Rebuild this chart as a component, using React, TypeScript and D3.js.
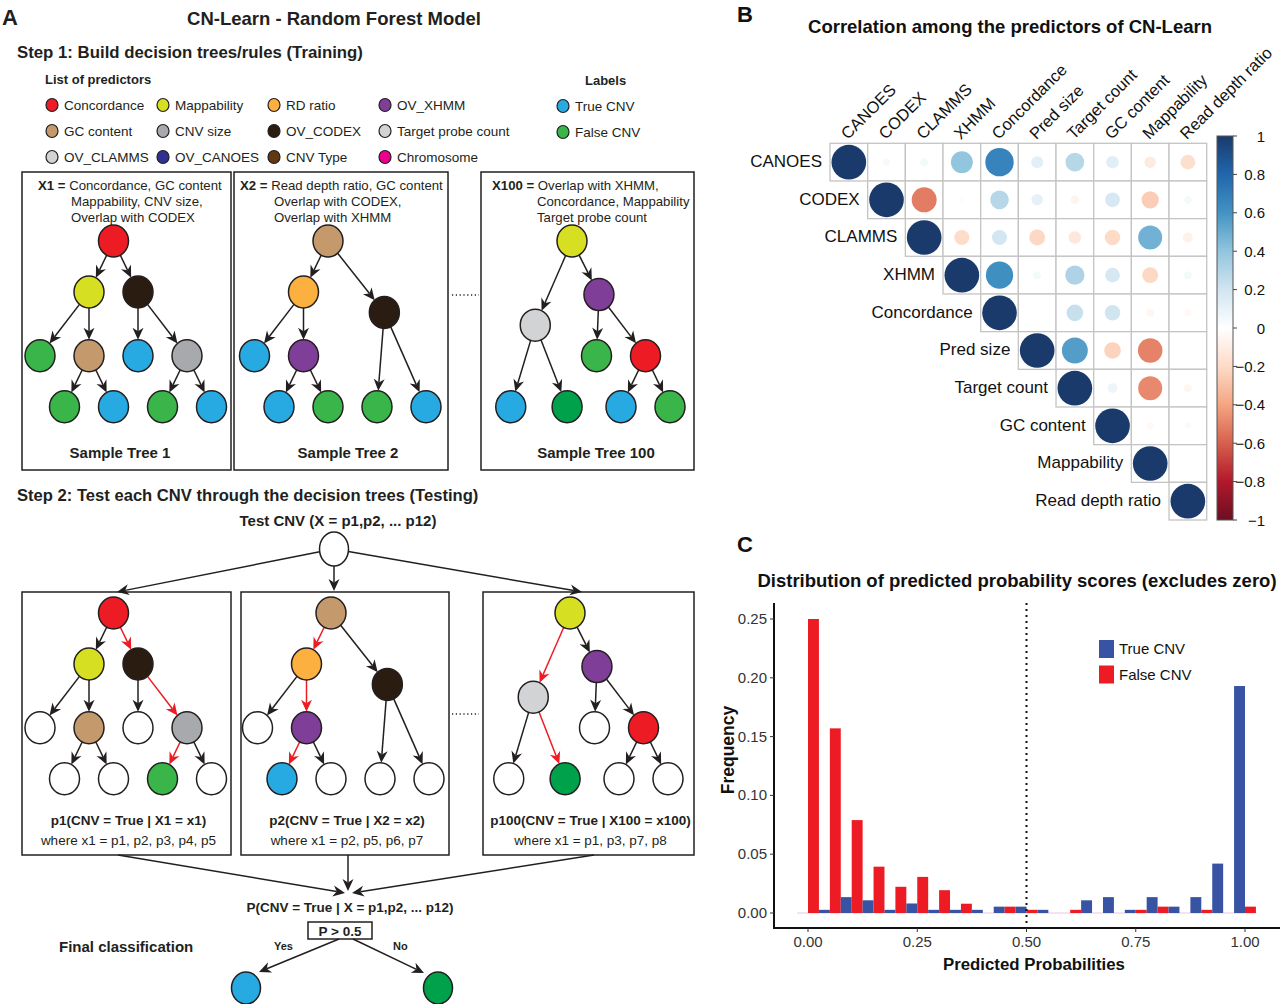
import React from "react";
import * as d3 from "d3";

const SANS = "'Liberation Sans', Arial, Helvetica, sans-serif";
const NARROW = "'Liberation Sans Narrow', 'Arial Narrow', 'Liberation Sans', sans-serif";

// ---------- panel A : predictors and labels ----------
const predictorNames = [
  "Concordance", "Mappability", "RD ratio", "OV_XHMM",
  "GC content", "CNV size", "OV_CODEX", "Target probe count",
  "OV_CLAMMS", "OV_CANOES", "CNV Type", "Chromosome",
];
const predictorColors = [
  "#ED1C24", "#D7DF23", "#FBB040", "#7F3F98",
  "#C49A6C", "#A7A9AC", "#2B1C12", "#D1D3D4",
  "#D1D3D4", "#2E3192", "#603913", "#EC008C",
];
const labelNames = ["True CNV", "False CNV"];
const labelColors = ["#27AAE1", "#39B54A"];

const palette: Record<string, string> = {};
predictorNames.forEach((n, i) => (palette[n] = predictorColors[i]));
labelNames.forEach((n, i) => (palette[n] = labelColors[i]));
palette["False CNV dark"] = "#00A14B";

type TNode = { id: string; parent?: string; fill: string; u: number; d: number };

// u = horizontal slot, d = depth level
const tree1: TNode[] = [
  { id: "r", fill: "Concordance", u: 3, d: 0 },
  { id: "a", parent: "r", fill: "Mappability", u: 2, d: 1 },
  { id: "b", parent: "r", fill: "OV_CODEX", u: 4, d: 1 },
  { id: "c", parent: "a", fill: "False CNV", u: 0, d: 2.25 },
  { id: "e", parent: "a", fill: "GC content", u: 2, d: 2.25 },
  { id: "f", parent: "b", fill: "True CNV", u: 4, d: 2.25 },
  { id: "g", parent: "b", fill: "CNV size", u: 6, d: 2.25 },
  { id: "h", parent: "e", fill: "False CNV", u: 1, d: 3.25 },
  { id: "i", parent: "e", fill: "True CNV", u: 3, d: 3.25 },
  { id: "j", parent: "g", fill: "False CNV", u: 5, d: 3.25 },
  { id: "k", parent: "g", fill: "True CNV", u: 7, d: 3.25 },
];
const tree2: TNode[] = [
  { id: "r", fill: "GC content", u: 3, d: 0 },
  { id: "a", parent: "r", fill: "RD ratio", u: 2, d: 1 },
  { id: "b", parent: "r", fill: "OV_CODEX", u: 5.3, d: 1.4 },
  { id: "c", parent: "a", fill: "True CNV", u: 0, d: 2.25 },
  { id: "e", parent: "a", fill: "OV_XHMM", u: 2, d: 2.25 },
  { id: "h", parent: "e", fill: "True CNV", u: 1, d: 3.25 },
  { id: "i", parent: "e", fill: "False CNV", u: 3, d: 3.25 },
  { id: "j", parent: "b", fill: "False CNV", u: 5, d: 3.25 },
  { id: "k", parent: "b", fill: "True CNV", u: 7, d: 3.25 },
];
const tree3: TNode[] = [
  { id: "r", fill: "Mappability", u: 3, d: 0 },
  { id: "a", parent: "r", fill: "Target probe count", u: 1.5, d: 1.65 },
  { id: "b", parent: "r", fill: "OV_XHMM", u: 4.1, d: 1.05 },
  { id: "f", parent: "b", fill: "False CNV", u: 4, d: 2.25 },
  { id: "g", parent: "b", fill: "Concordance", u: 6, d: 2.25 },
  { id: "h", parent: "a", fill: "True CNV", u: 0.5, d: 3.25 },
  { id: "i", parent: "a", fill: "False CNV dark", u: 2.8, d: 3.25 },
  { id: "j", parent: "g", fill: "True CNV", u: 5, d: 3.25 },
  { id: "k", parent: "g", fill: "False CNV", u: 7, d: 3.25 },
];
const trees = [tree1, tree2, tree3];
const testPaths = [["r", "b", "g", "j"], ["r", "a", "e", "h"], ["r", "a", "i"]];

const trainHeads = ["X1 =", "X2 =", "X100 ="];
const trainLines = [
  ["Concordance, GC content", "Mappability, CNV size,", "Overlap with CODEX"],
  ["Read depth ratio, GC content", "Overlap with CODEX,", "Overlap with XHMM"],
  ["Overlap with XHMM,", "Concordance, Mappability", "Target probe count"],
];
const treeNames = ["Sample Tree 1", "Sample Tree 2", "Sample Tree 100"];
const testProbs = ["p1(CNV = True | X1 = x1)", "p2(CNV = True | X2 = x2)", "p100(CNV = True | X100 = x100)"];
const testWhere = ["where x1 = p1, p2, p3, p4, p5", "where x1 = p2, p5, p6, p7", "where x1 = p1, p3, p7, p8"];

// ---------- panel B : correlation ----------
const corrNames = ["CANOES", "CODEX", "CLAMMS", "XHMM", "Concordance", "Pred size", "Target count", "GC content", "Mappability", "Read depth ratio"];
// upper triangle, row i holds columns i+1 .. 9
const corrUpper = [
  [0.04, 0.05, 0.4, 0.67, 0.12, 0.29, 0.13, -0.11, -0.18],
  [-0.52, 0.02, 0.29, 0.11, -0.06, 0.18, -0.25, 0.05],
  [-0.19, 0.19, -0.21, -0.13, -0.2, 0.48, -0.08],
  [0.62, 0.05, 0.31, 0.18, -0.21, 0.05],
  [0, 0.23, 0.2, -0.05, -0.04],
  [0.56, -0.23, -0.5, 0],
  [0.08, -0.48, -0.05],
  [-0.04, 0.03],
  [0],
];
const corrTicks = [1, 0.8, 0.6, 0.4, 0.2, 0, -0.2, -0.4, -0.6, -0.8, -1];
const rdbu = ["#6B0F22", "#B2182B", "#D6604D", "#F4A582", "#FDDBC7", "#FFFFFF", "#D1E5F0", "#92C5DE", "#4393C3", "#2166AC", "#1A3A6C"];

// ---------- panel C : histogram ----------
const binCenters = [0, 0.05, 0.1, 0.15, 0.2, 0.25, 0.3, 0.35, 0.4, 0.45, 0.5, 0.55, 0.6, 0.65, 0.7, 0.75, 0.8, 0.85, 0.9, 0.95, 1.0];
const trueFreq = [0, 0.0027, 0.0135, 0.0108, 0.0027, 0.0081, 0.0027, 0.0027, 0.0027, 0.0054, 0.0054, 0.0027, 0, 0.0108, 0.0135, 0.0027, 0.0135, 0.0054, 0.0135, 0.042, 0.193];
const falseFreq = [0.25, 0.157, 0.079, 0.0394, 0.0223, 0.0307, 0.0194, 0.0079, 0, 0.0054, 0.0027, 0, 0.0027, 0, 0, 0.0027, 0.0054, 0, 0.0027, 0, 0.0054];
const yTicks = [0, 0.05, 0.1, 0.15, 0.2, 0.25];
const xTicks = [0, 0.25, 0.5, 0.75, 1];

const RX = 15, RY = 16;

function Arrow({ x1, y1, x2, y2, color = "#231F20", head = 12, half = 5.5 }) {
  const len = Math.hypot(x2 - x1, y2 - y1);
  const ux = (x2 - x1) / len, uy = (y2 - y1) / len;
  const nx = -uy, ny = ux;
  const bx = x2 - ux * head, by = y2 - uy * head;
  const mx = x2 - ux * head * 0.7, my = y2 - uy * head * 0.7;
  return (
    <g>
      <line x1={x1} y1={y1} x2={mx} y2={my} stroke={color} strokeWidth={1.5} />
      <path d={`M${x2},${y2}L${bx + nx * half},${by + ny * half}L${mx},${my}L${bx - nx * half},${by - ny * half}Z`} fill={color} />
    </g>
  );
}

function edgePoint(cx, cy, ux, uy, rx = RX, ry = RY) {
  const t = 1 / Math.sqrt((ux / rx) ** 2 + (uy / ry) ** 2);
  return [cx + ux * t, cy + uy * t];
}

function Tree({ nodes, x0, y0, path }: { nodes: TNode[]; x0: number; y0: number; path?: string[] }) {
  const sx = d3.scaleLinear().domain([0, 1]).range([x0, x0 + 24.5]);
  const sy = d3.scaleLinear().domain([0, 1]).range([y0, y0 + 51]);
  const byId = new Map(nodes.map((n) => [n.id, n]));
  const parents = new Set(nodes.map((n) => n.parent).filter(Boolean));
  const onPath = new Set(path || []);
  return (
    <g>
      {nodes.filter((n) => n.parent).map((n) => {
        const p = byId.get(n.parent!)!;
        const px = sx(p.u), py = sy(p.d), cx = sx(n.u), cy = sy(n.d);
        const len = Math.hypot(cx - px, cy - py);
        const ux = (cx - px) / len, uy = (cy - py) / len;
        const [sx1, sy1] = edgePoint(px, py, ux, uy);
        const [ex, ey] = edgePoint(cx, cy, -ux, -uy);
        const red = path && onPath.has(n.id) && onPath.has(p.id);
        return <Arrow key={n.id} x1={sx1} y1={sy1} x2={ex} y2={ey} color={red ? "#ED1C24" : "#231F20"} />;
      })}
      {nodes.map((n) => {
        const leaf = !parents.has(n.id);
        const fill = path && leaf && !onPath.has(n.id) ? "#FFFFFF" : palette[n.fill];
        return <ellipse key={n.id} cx={sx(n.u)} cy={sy(n.d)} rx={RX} ry={RY} fill={fill} stroke="#231F20" strokeWidth={1.5} />;
      })}
    </g>
  );
}

function PanelA() {
  const legendX = d3.scaleLinear().domain([0, 1]).range([52, 163]);
  const legendY = d3.scaleLinear().domain([0, 1]).range([105, 131]);
  const trainBoxes = [[22, 231], [234, 448], [481, 694]];
  const testBoxes = [[22, 231], [241, 449], [483, 694]];
  const trainOrigins = [40, 254.5, 498.5];
  const testOrigins = [40, 257.5, 496.5];
  const indents = [71, 274, 537];
  const heads = [38, 240, 492];
  const nameCenters = [120, 348, 596];
  const root = { x: 334, y: 549 };
  const topTips = [[117, 592], [334, 591], [582, 592]];
  const bottomStarts = [[118, 855], [348, 855], [594, 855]];
  const bottomTips = [[345, 893], [348, 891], [352, 893]];
  return (
    <g fontFamily={SANS} fill="#231F20">
      <text x={2} y={25} fontSize={22} fontWeight="bold">A</text>
      <text x={334} y={25} fontSize={18.5} fontWeight="bold" textAnchor="middle" fontFamily={NARROW}>CN-Learn - Random Forest Model</text>
      <text x={17} y={58} fontSize={16.8} fontWeight="bold" fontFamily={NARROW}>Step 1: Build decision trees/rules (Training)</text>
      <text x={45} y={84} fontSize={13} fontWeight="bold">List of predictors</text>
      <text x={585} y={85} fontSize={13} fontWeight="bold">Labels</text>
      {predictorNames.map((n, i) => {
        const cx = legendX(i % 4), cy = legendY(Math.floor(i / 4));
        return (
          <g key={n}>
            <ellipse cx={cx} cy={cy} rx={6} ry={6.5} fill={predictorColors[i]} stroke="#231F20" strokeWidth={1.2} />
            <text x={cx + 12} y={cy + 5} fontSize={13.5}>{n}</text>
          </g>
        );
      })}
      {labelNames.map((n, i) => {
        const cy = legendY(i) + 1;
        return (
          <g key={n}>
            <ellipse cx={563} cy={cy} rx={6} ry={6.5} fill={labelColors[i]} stroke="#231F20" strokeWidth={1.2} />
            <text x={575} y={cy + 5} fontSize={13.5}>{n}</text>
          </g>
        );
      })}

      {trainBoxes.map(([l, r], i) => (
        <g key={i}>
          <rect x={l} y={172} width={r - l} height={298} fill="none" stroke="#231F20" strokeWidth={1.5} />
          <text x={heads[i]} y={190} fontSize={13.2}>
            <tspan fontWeight="bold">{trainHeads[i]}</tspan> {trainLines[i][0]}
          </text>
          <text x={indents[i]} y={206} fontSize={13.2}>{trainLines[i][1]}</text>
          <text x={indents[i]} y={222} fontSize={13.2}>{trainLines[i][2]}</text>
          <Tree nodes={trees[i]} x0={trainOrigins[i]} y0={241} />
          <text x={nameCenters[i]} y={458} fontSize={15} fontWeight="bold" textAnchor="middle">{treeNames[i]}</text>
        </g>
      ))}
      <line x1={452} x2={479} y1={295} y2={295} stroke="#231F20" strokeWidth={1.6} strokeDasharray="1.2 2.6" />

      <text x={17} y={501} fontSize={16.6} fontWeight="bold" fontFamily={NARROW}>Step 2: Test each CNV through the decision trees (Testing)</text>
      <text x={338} y={526} fontSize={15} fontWeight="bold" textAnchor="middle" fontFamily={NARROW}>Test CNV (X = p1,p2, ... p12)</text>
      {topTips.map(([tx, ty], i) => {
        const len = Math.hypot(tx - root.x, ty - root.y);
        const [sx1, sy1] = edgePoint(root.x, root.y, (tx - root.x) / len, (ty - root.y) / len, 14.5, 17);
        return <Arrow key={i} x1={sx1} y1={sy1} x2={tx} y2={ty} />;
      })}
      <ellipse cx={root.x} cy={root.y} rx={14.5} ry={17} fill="#FFFFFF" stroke="#231F20" strokeWidth={1.5} />
      {testBoxes.map(([l, r], i) => (
        <g key={i}>
          <rect x={l} y={592} width={r - l} height={263} fill="none" stroke="#231F20" strokeWidth={1.5} />
          <Tree nodes={trees[i]} x0={testOrigins[i]} y0={613} path={testPaths[i]} />
          <text x={(l + r) / 2 + 2} y={825} fontSize={13.5} fontWeight="bold" textAnchor="middle" fontFamily={NARROW}>{testProbs[i]}</text>
          <text x={(l + r) / 2 + 2} y={845} fontSize={13.5} textAnchor="middle" fontFamily={NARROW}>{testWhere[i]}</text>
        </g>
      ))}
      <line x1={452} x2={479} y1={714} y2={714} stroke="#231F20" strokeWidth={1.6} strokeDasharray="1.2 2.6" />
      {bottomStarts.map(([bx, by], i) => (
        <Arrow key={i} x1={bx} y1={by} x2={bottomTips[i][0]} y2={bottomTips[i][1]} />
      ))}
      <text x={350} y={912} fontSize={13.5} fontWeight="bold" textAnchor="middle" fontFamily={NARROW}>P(CNV = True | X = p1,p2, ... p12)</text>
      <rect x={308} y={922} width={64} height={17} fill="none" stroke="#231F20" strokeWidth={1.5} />
      <text x={340} y={936} fontSize={13.5} fontWeight="bold" textAnchor="middle" fontFamily={NARROW}>P &gt; 0.5</text>
      <text x={59} y={952} fontSize={15} fontWeight="bold">Final classification</text>
      <text x={274} y={950} fontSize={11} fontWeight="bold">Yes</text>
      <text x={393} y={950} fontSize={11} fontWeight="bold">No</text>
      <Arrow x1={339} y1={939} x2={259} y2={972} />
      <Arrow x1={353} y1={939} x2={424} y2={973} />
      <ellipse cx={246} cy={988} rx={14.5} ry={16} fill={labelColors[0]} stroke="#231F20" strokeWidth={1.5} />
      <ellipse cx={438} cy={988} rx={14.5} ry={16} fill={palette["False CNV dark"]} stroke="#231F20" strokeWidth={1.5} />
    </g>
  );
}

function PanelB() {
  const n = corrNames.length;
  const pos = d3.scaleBand().domain(d3.range(n).map(String)).range([0, n * 37.67]).padding(0);
  const x0 = 830, y0 = 143.3;
  const cell = pos.bandwidth();
  const color = d3.scaleLinear<string>().domain(d3.range(-1, 1.0001, 0.2)).range(rdbu).interpolate(d3.interpolateRgb);
  const cells: { i: number; j: number; r: number }[] = [];
  for (let i = 0; i < n; i++) {
    cells.push({ i, j: i, r: 1 });
    corrUpper[i]?.forEach((r, k) => cells.push({ i, j: i + 1 + k, r }));
  }
  const bar = d3.scaleLinear().domain([1, -1]).range([136, 520]);
  return (
    <g fontFamily={SANS} fill="#111">
      <text x={737} y={22} fontSize={22} fontWeight="bold">B</text>
      <text x={1010} y={33} fontSize={18.5} fontWeight="bold" textAnchor="middle">Correlation among the predictors of CN-Learn</text>
      {cells.map((c) => (
        <rect key={`r${c.i}-${c.j}`} x={x0 + pos(String(c.j))!} y={y0 + pos(String(c.i))!} width={cell} height={cell} fill="#fff" stroke="#C4C4C4" strokeWidth={1.3} />
      ))}
      {cells.map((c) => (
        <circle key={`c${c.i}-${c.j}`} cx={x0 + pos(String(c.j))! + cell / 2} cy={y0 + pos(String(c.i))! + cell / 2} r={0.46 * cell * Math.sqrt(Math.abs(c.r))} fill={color(c.r)} />
      ))}
      {corrNames.map((name, i) => (
        <text key={`row${name}`} x={x0 + pos(String(i))! - 8} y={y0 + pos(String(i))! + cell / 2 + 5} fontSize={17} textAnchor="end">{name}</text>
      ))}
      {corrNames.map((name, j) => {
        const tx = x0 + pos(String(j))! + cell / 2 - 1, ty = y0 - 3;
        return <text key={`col${name}`} transform={`translate(${tx},${ty}) rotate(-45)`} fontSize={16.5}>{name}</text>;
      })}
      <defs>
        <linearGradient id="corrbar" x1="0" y1="0" x2="0" y2="1">
          {rdbu.slice().reverse().map((c, k) => (
            <stop key={k} offset={k / (rdbu.length - 1)} stopColor={c} />
          ))}
        </linearGradient>
      </defs>
      <rect x={1217} y={bar(1)} width={16} height={bar(-1) - bar(1)} fill="url(#corrbar)" stroke="#555" strokeWidth={1} />
      {corrTicks.map((t) => (
        <g key={t}>
          <line x1={1233} x2={1237} y1={bar(t)} y2={bar(t)} stroke="#444" strokeWidth={1} />
          <text x={1265} y={bar(t) + 5.5} fontSize={15} textAnchor="end">{t < 0 ? "\u2212" + Math.abs(t) : String(t)}</text>
        </g>
      ))}
    </g>
  );
}

function PanelC() {
  const x = d3.scaleLinear().domain([0, 1]).range([808, 1245]);
  const y = d3.scaleLinear().domain([0, 0.25]).range([913, 619]);
  const half = 0.025;
  const fmt = d3.format(".2f");
  return (
    <g fontFamily={SANS} fill="#111">
      <text x={737} y={552} fontSize={22} fontWeight="bold">C</text>
      <text x={1017} y={587} fontSize={18.5} fontWeight="bold" textAnchor="middle">Distribution of predicted probability scores (excludes zero)</text>
      <line x1={x(-half)} x2={x(1 + half)} y1={y(0)} y2={y(0)} stroke="#EBC8D8" strokeWidth={1} />
      {binCenters.map((c, k) => (
        <g key={k}>
          {trueFreq[k] > 0 && <rect x={x(c - half)} y={y(trueFreq[k])} width={x(c) - x(c - half)} height={y(0) - y(trueFreq[k])} fill="#3953A4" />}
          {falseFreq[k] > 0 && <rect x={x(c)} y={y(falseFreq[k])} width={x(c + half) - x(c)} height={y(0) - y(falseFreq[k])} fill="#ED1C24" />}
        </g>
      ))}
      <line x1={x(0.5)} x2={x(0.5)} y1={603} y2={928} stroke="#111" strokeWidth={2} strokeDasharray="2 4" />
      <line x1={774} x2={774} y1={603} y2={929} stroke="#111" strokeWidth={2} />
      <line x1={773} x2={1280} y1={928} y2={928} stroke="#111" strokeWidth={2} />
      {yTicks.map((t) => (
        <g key={t}>
          <line x1={770} x2={774} y1={y(t)} y2={y(t)} stroke="#333" />
          <text x={767} y={y(t) + 5} fontSize={15} textAnchor="end" fill="#333">{fmt(t)}</text>
        </g>
      ))}
      {xTicks.map((t) => (
        <g key={t}>
          <line x1={x(t)} x2={x(t)} y1={928} y2={932} stroke="#333" />
          <text x={x(t)} y={947} fontSize={15} textAnchor="middle" fill="#333">{fmt(t)}</text>
        </g>
      ))}
      <text transform={`translate(734,750) rotate(-90)`} fontSize={17.5} fontWeight="bold" textAnchor="middle">Frequency</text>
      <text x={1034} y={970} fontSize={16.8} fontWeight="bold" textAnchor="middle">Predicted Probabilities</text>
      {labelNames.map((n, i) => (
        <g key={n}>
          <rect x={1099} y={640 + i * 25.5} width={15} height={18} fill={i === 0 ? "#3953A4" : "#ED1C24"} />
          <text x={1119} y={654 + i * 26} fontSize={15}>{n}</text>
        </g>
      ))}
    </g>
  );
}

export default function App() {
  return (
    <svg width={1280} height={1004} viewBox="0 0 1280 1004" style={{ position: "absolute", left: 0, top: 0, background: "#fff" }}>
      <rect width={1280} height={1004} fill="#fff" />
      <PanelA />
      <PanelB />
      <PanelC />
    </svg>
  );
}
